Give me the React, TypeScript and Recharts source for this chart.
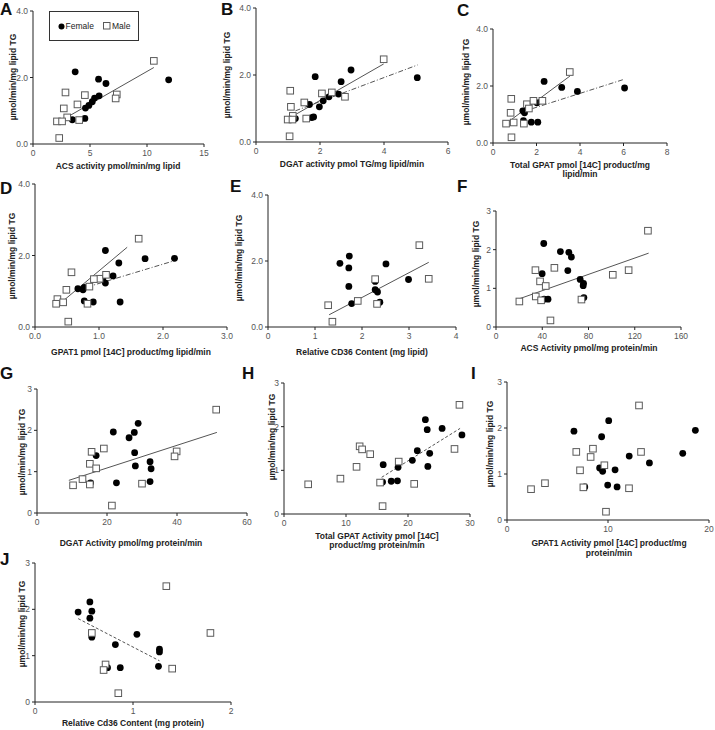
import React from "react";
import { ScatterChart, Scatter, XAxis, YAxis, ReferenceLine } from "recharts";

type Pair = [number, number];

// ---- data: [x, TG synthesis] ----
const aFemale: Pair[] = [[3.7, 2.17], [5.75, 1.95], [6.4, 1.82], [11.9, 1.93], [5.8, 1.45], [5.4, 1.38], [5.2, 1.27], [4.9, 1.16], [4.6, 1.08], [4.55, 0.77], [3.45, 0.73]];
const aMale: Pair[] = [[10.6, 2.5], [2.85, 1.55], [4.55, 1.47], [7.35, 1.49], [7.25, 1.37], [3.9, 1.19], [2.7, 1.07], [3.0, 0.8], [2.1, 0.68], [2.55, 0.68], [4.05, 0.72], [2.3, 0.18]];
const aTrend: Pair[] = [[2.95, 0.8], [10.6, 2.3]];

const bFemale: Pair[] = [[1.85, 1.95], [2.97, 2.15], [2.66, 1.8], [5.04, 1.92], [2.58, 1.43], [2.28, 1.35], [2.1, 1.23], [1.98, 1.05], [1.67, 1.12], [1.8, 0.75], [1.74, 0.73], [1.23, 0.7]];
const bMale: Pair[] = [[3.99, 2.47], [1.07, 1.53], [2.06, 1.45], [2.37, 1.48], [2.78, 1.35], [1.51, 1.18], [1.09, 1.05], [1.15, 0.78], [0.99, 0.67], [1.14, 0.67], [1.57, 0.7], [1.05, 0.17]];
const bTrendMale: Pair[] = [[1.07, 0.73], [3.99, 2.33]];
const bTrendFemale: Pair[] = [[1.23, 0.93], [5.05, 2.3]];

const cFemale: Pair[] = [[2.35, 2.16], [3.16, 1.95], [3.88, 1.81], [6.05, 1.93], [2.02, 1.41], [1.37, 1.13], [1.45, 1.06], [1.4, 0.78], [1.76, 0.73], [2.06, 0.73]];
const cMale: Pair[] = [[3.53, 2.49], [0.84, 1.55], [1.56, 1.36], [1.86, 1.48], [2.27, 1.48], [1.65, 1.21], [0.81, 1.06], [0.6, 0.68], [0.95, 0.72], [1.42, 0.68], [0.85, 0.2]];
const cTrendMale: Pair[] = [[0.56, 0.66], [3.54, 2.35]];
const cTrendFemale: Pair[] = [[1.37, 1.1], [6.05, 2.24]];

const dFemale: Pair[] = [[1.1, 2.14], [1.31, 1.79], [1.72, 1.91], [2.18, 1.92], [1.22, 1.43], [1.06, 1.34], [1.1, 1.23], [0.67, 1.07], [0.75, 1.04], [0.77, 1.11], [0.77, 0.73], [0.91, 0.7], [1.33, 0.7]];
const dMale: Pair[] = [[1.62, 2.47], [0.57, 1.53], [0.49, 1.04], [1.01, 1.35], [0.92, 1.34], [1.11, 1.46], [0.85, 1.13], [0.35, 0.78], [0.33, 0.65], [0.44, 0.69], [0.82, 0.65], [0.52, 0.15]];
const dTrendMale: Pair[] = [[0.34, 0.58], [1.44, 2.23]];
const dTrendFemale: Pair[] = [[0.67, 1.04], [2.17, 1.85]];

const eFemale: Pair[] = [[1.73, 2.15], [1.53, 1.93], [1.72, 1.79], [2.51, 1.91], [2.99, 1.44], [1.72, 1.23], [2.28, 1.38], [2.28, 1.13], [2.33, 1.06], [1.78, 0.71], [2.38, 0.75]];
const eMale: Pair[] = [[3.22, 2.48], [3.42, 1.46], [2.28, 1.45], [1.91, 0.79], [1.28, 0.66], [2.32, 0.7], [1.37, 0.16]];
const eTrend: Pair[] = [[1.3, 0.37], [3.42, 1.96]];

const fFemale: Pair[] = [[41.3, 2.16], [55.7, 1.95], [63, 1.93], [65.2, 1.81], [62.1, 1.46], [39.9, 1.38], [72.8, 1.23], [75.7, 1.13], [75.4, 1.07], [76, 0.76], [45, 0.72], [41.6, 0.72]];
const fMale: Pair[] = [[131.4, 2.49], [114.7, 1.47], [101, 1.35], [50.5, 1.53], [34.1, 1.47], [38.1, 1.18], [43, 1.06], [34.4, 0.79], [39, 0.69], [20.2, 0.66], [73.9, 0.71], [47.1, 0.17]];
const fTrend: Pair[] = [[20.2, 0.73], [132, 1.91]];

const gFemale: Pair[] = [[28.9, 2.17], [21.8, 1.96], [27.8, 1.95], [26.3, 1.82], [27.9, 1.46], [16.9, 1.39], [32.3, 1.24], [32.6, 1.07], [28.1, 1.14], [32.3, 0.76], [22.7, 0.73], [15.3, 0.73]];
const gMale: Pair[] = [[51.2, 2.5], [39.9, 1.49], [39.3, 1.37], [19.1, 1.56], [15.6, 1.48], [15.1, 1.19], [16.9, 1.08], [13, 0.82], [10.3, 0.67], [15.1, 0.69], [30, 0.71], [21.4, 0.18]];
const gTrend: Pair[] = [[9.1, 0.79], [51.4, 1.95]];

const hFemale: Pair[] = [[22.8, 2.16], [23.1, 1.93], [25.5, 1.96], [28.7, 1.81], [21.5, 1.45], [23.5, 1.39], [20.7, 1.23], [23.2, 1.09], [18.4, 1.07], [16, 1.13], [17.3, 0.75], [18.3, 0.76], [15.9, 0.73]];
const hMale: Pair[] = [[28.3, 2.5], [12.2, 1.55], [12.6, 1.48], [13.9, 1.37], [11.7, 1.08], [18.5, 1.2], [9.1, 0.81], [3.9, 0.68], [15.5, 0.72], [21, 0.69], [27.5, 1.49], [15.9, 0.18]];
const hTrend: Pair[] = [[15.75, 0.84], [28.4, 1.96]];

const iFemale: Pair[] = [[10.07, 2.16], [6.63, 1.93], [9.37, 1.81], [18.65, 1.95], [17.4, 1.45], [12.1, 1.39], [14.1, 1.24], [10.7, 1.09], [9.17, 1.13], [9.47, 1.06], [9.97, 0.76], [10.9, 0.72], [7.7, 0.72]];
const iMale: Pair[] = [[13.07, 2.49], [13.27, 1.48], [6.86, 1.48], [8.51, 1.55], [8.28, 1.37], [9.64, 1.19], [7.23, 1.08], [3.76, 0.8], [2.38, 0.67], [7.56, 0.71], [12.08, 0.69], [9.8, 0.18]];

const jFemale: Pair[] = [[0.56, 2.16], [0.44, 1.94], [0.58, 1.96], [0.56, 1.81], [1.04, 1.46], [0.58, 1.4], [0.82, 1.24], [1.27, 1.14], [1.27, 1.08], [1.26, 0.77], [0.74, 0.74], [0.87, 0.74]];
const jMale: Pair[] = [[1.34, 2.5], [1.79, 1.49], [0.58, 1.49], [0.72, 0.81], [0.7, 0.69], [1.4, 0.72], [0.85, 0.19]];
const jTrend: Pair[] = [[0.44, 1.8], [1.27, 0.89]];

// ---- ticks ----
const yTicksLipid = [0, 2, 4];
const yTicksProtein = [0, 1, 2, 3];
const aXTicks = [0, 5, 10, 15];
const bXTicks = [0, 2, 4, 6];
const cXTicks = [0, 2, 4, 6, 8];
const dXTicks = [0, 1, 2, 3];
const eXTicks = [0, 1, 2, 3, 4];
const fXTicks = [0, 40, 80, 120, 160];
const gXTicks = [0, 20, 40, 60];
const hXTicks = [0, 10, 20, 30];
const iXTicks = [0, 10, 20];
const jXTicks = [0, 1, 2];

const Y_TITLE = "µmol/min/mg lipid TG";
const FONT = "'Liberation Sans', Arial, sans-serif";
const SOLID = "";
const DASHDOT = "5 2 1 2";
const DASHED = "3 2";

const toPts = (arr: Pair[]) => arr.map(([x, y]) => ({ x, y }));
const fix1 = (v: number) => v.toFixed(1);
const plain = (v: number) => String(v);

const Dot = (p: any) => <circle cx={p.cx} cy={p.cy} r={3.4} fill="#000" />;
const Sq = (p: any) => (
  <rect x={p.cx - 3.3} y={p.cy - 3.3} width={6.6} height={6.6} fill="#fff" stroke="#5a5a5a" strokeWidth={1} />
);

interface PanelCfg {
  id: string;
  letter: [number, number];
  box: [number, number, number, number]; // x0, x1, yTop, yBottom in px
  xMax: number;
  yMax: number;
  xTicks: number[];
  yTicks: number[];
  xFmt: (v: number) => string;
  yFmt: (v: number) => string;
  female: Pair[];
  male: Pair[];
  lines: { pts: Pair[]; dash: string }[];
  yTitlePos: [number, number];
  xTitle: string[];
  xTitlePos: [number, number];
}

const panels: PanelCfg[] = [
  { id: "A", letter: [0, 1], box: [33, 204, 11, 144], xMax: 15, yMax: 4, xTicks: aXTicks, yTicks: yTicksLipid, xFmt: plain, yFmt: fix1,
    female: aFemale, male: aMale, lines: [{ pts: aTrend, dash: SOLID }], yTitlePos: [13, 77], xTitle: ["ACS activity pmol/min/mg lipid"], xTitlePos: [118, 167] },
  { id: "B", letter: [221, 1], box: [256, 448, 8, 142], xMax: 6, yMax: 4, xTicks: bXTicks, yTicks: yTicksLipid, xFmt: plain, yFmt: fix1,
    female: bFemale, male: bMale, lines: [{ pts: bTrendMale, dash: SOLID }, { pts: bTrendFemale, dash: DASHDOT }], yTitlePos: [227, 75], xTitle: ["DGAT activity pmol TG/mg lipid/min"], xTitlePos: [352, 165] },
  { id: "C", letter: [457, 2], box: [493, 667, 29, 143], xMax: 8, yMax: 4, xTicks: cXTicks, yTicks: yTicksLipid, xFmt: plain, yFmt: fix1,
    female: cFemale, male: cMale, lines: [{ pts: cTrendMale, dash: SOLID }, { pts: cTrendFemale, dash: DASHDOT }], yTitlePos: [466, 82], xTitle: ["Total GPAT pmol [14C] product/mg", "lipid/min"], xTitlePos: [580, 169.5] },
  { id: "D", letter: [0, 180], box: [35, 227, 184, 327], xMax: 3, yMax: 4, xTicks: dXTicks, yTicks: yTicksLipid, xFmt: fix1, yFmt: fix1,
    female: dFemale, male: dMale, lines: [{ pts: dTrendMale, dash: SOLID }, { pts: dTrendFemale, dash: DASHDOT }], yTitlePos: [12, 256], xTitle: ["GPAT1 pmol [14C] product/mg lipid/min"], xTitlePos: [131, 353] },
  { id: "E", letter: [230, 178], box: [268, 456, 195, 327], xMax: 4, yMax: 4, xTicks: eXTicks, yTicks: yTicksLipid, xFmt: plain, yFmt: fix1,
    female: eFemale, male: eMale, lines: [{ pts: eTrend, dash: SOLID }], yTitlePos: [239, 258], xTitle: ["Relative CD36 Content (mg lipid)"], xTitlePos: [362, 353] },
  { id: "F", letter: [457, 178], box: [496, 681, 211, 327], xMax: 160, yMax: 3, xTicks: fXTicks, yTicks: yTicksProtein, xFmt: plain, yFmt: plain,
    female: fFemale, male: fMale, lines: [{ pts: fTrend, dash: SOLID }], yTitlePos: [476, 264], xTitle: ["ACS Activity pmol/mg protein/min"], xTitlePos: [589, 349] },
  { id: "G", letter: [0, 365], box: [37, 247, 389, 513], xMax: 60, yMax: 3, xTicks: gXTicks, yTicks: yTicksProtein, xFmt: plain, yFmt: plain,
    female: gFemale, male: gMale, lines: [{ pts: gTrend, dash: SOLID }], yTitlePos: [22, 452], xTitle: ["DGAT Activity pmol/mg protein/min"], xTitlePos: [131, 544] },
  { id: "H", letter: [242, 365], box: [284, 470, 383, 514], xMax: 30, yMax: 3, xTicks: hXTicks, yTicks: yTicksProtein, xFmt: plain, yFmt: plain,
    female: hFemale, male: hMale, lines: [{ pts: hTrend, dash: DASHED }], yTitlePos: [272, 437], xTitle: ["Total GPAT Activity pmol [14C]", "product/mg protein/min"], xTitlePos: [377, 540.5] },
  { id: "I", letter: [471, 365], box: [507, 709, 382, 520], xMax: 20, yMax: 3, xTicks: iXTicks, yTicks: yTicksProtein, xFmt: plain, yFmt: plain,
    female: iFemale, male: iMale, lines: [], yTitlePos: [490, 444], xTitle: ["GPAT1 Activity pmol [14C] product/mg", "protein/min"], xTitlePos: [609, 548] },
  { id: "J", letter: [0, 551], box: [35, 231, 563, 702], xMax: 2, yMax: 3, xTicks: jXTicks, yTicks: yTicksProtein, xFmt: plain, yFmt: plain,
    female: jFemale, male: jMale, lines: [{ pts: jTrend, dash: DASHED }], yTitlePos: [22, 624], xTitle: ["Relative Cd36 Content (mg protein)"], xTitlePos: [133, 724] },
];

const YW = 40;
const MT = 8;
const MR = 10;
const XH = 24;
const AXIS = "#222";
const tickStyle = { fill: "#555", fontSize: 8.5, fontFamily: FONT };

function Panel({ cfg }: { cfg: PanelCfg }) {
  const [x0, x1, yT, yB] = cfg.box;
  const w = YW + (x1 - x0) + MR;
  const h = MT + (yB - yT) + XH;
  return (
    <>
      <div style={{ position: "absolute", left: x0 - YW, top: yT - MT }}>
        <ScatterChart width={w} height={h} margin={{ top: MT, right: MR, bottom: 0, left: 0 }}>
          <XAxis type="number" dataKey="x" domain={[0, cfg.xMax]} ticks={cfg.xTicks} interval={0} tickFormatter={cfg.xFmt}
            height={XH} tickSize={3} tickMargin={3} axisLine={{ stroke: AXIS }} tickLine={{ stroke: AXIS }} tick={tickStyle} />
          <YAxis type="number" dataKey="y" domain={[0, cfg.yMax]} ticks={cfg.yTicks} interval={0} tickFormatter={cfg.yFmt}
            width={YW} tickSize={3} tickMargin={2} axisLine={{ stroke: AXIS }} tickLine={{ stroke: AXIS }} tick={tickStyle} />
          <Scatter data={toPts(cfg.female)} shape={Dot} isAnimationActive={false} />
          <Scatter data={toPts(cfg.male)} shape={Sq} isAnimationActive={false} />
          {cfg.lines.map((l, i) => (
            <ReferenceLine key={i} segment={[{ x: l.pts[0][0], y: l.pts[0][1] }, { x: l.pts[1][0], y: l.pts[1][1] }]}
              stroke="#555" strokeWidth={1} strokeDasharray={l.dash || undefined} />
          ))}
        </ScatterChart>
      </div>
      <div style={{ position: "absolute", left: cfg.letter[0], top: cfg.letter[1], fontSize: 17, fontWeight: 700, lineHeight: 1, color: "#111" }}>
        {cfg.id}
      </div>
      <div style={{
        position: "absolute", left: cfg.yTitlePos[0], top: cfg.yTitlePos[1], transform: "translate(-50%, -50%) rotate(-90deg)",
        whiteSpace: "nowrap", fontSize: 8.5, fontWeight: 700, color: "#222", lineHeight: 1,
      }}>
        {Y_TITLE}
      </div>
      <div style={{
        position: "absolute", left: cfg.xTitlePos[0], top: cfg.xTitlePos[1], transform: "translate(-50%, -50%)",
        whiteSpace: "nowrap", fontSize: 8.5, fontWeight: 700, color: "#222", lineHeight: "9.5px", textAlign: "center",
      }}>
        {cfg.xTitle.map((t, i) => <div key={i}>{t}</div>)}
      </div>
    </>
  );
}

function Legend() {
  return (
    <div style={{
      position: "absolute", left: 49, top: 11, width: 90, height: 30, boxSizing: "border-box", border: "1px solid #333",
      display: "flex", alignItems: "center", justifyContent: "center", gap: 9, fontSize: 8.5, color: "#222",
    }}>
      <span style={{ display: "flex", alignItems: "center", gap: 1 }}>
        <svg width={7} height={7}><circle cx={3.5} cy={3.5} r={3} fill="#000" /></svg>Female
      </span>
      <span style={{ display: "flex", alignItems: "center", gap: 1 }}>
        <svg width={8} height={8}><rect x={0.5} y={0.5} width={6.5} height={6.5} fill="#fff" stroke="#5a5a5a" /></svg>Male
      </span>
    </div>
  );
}

export default function App() {
  return (
    <div style={{ position: "absolute", left: 0, top: 0, width: 715, height: 730, background: "#fff", overflow: "hidden", fontFamily: FONT }}>
      {panels.map((p) => <Panel key={p.id} cfg={p} />)}
      <Legend />
    </div>
  );
}
